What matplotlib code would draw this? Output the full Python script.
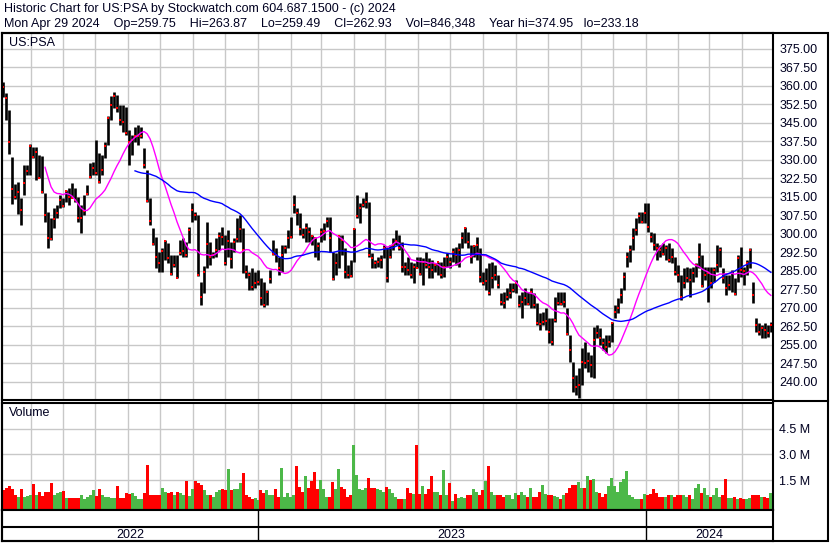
import numpy as np
import pandas as pd
import matplotlib
matplotlib.use('Agg')
import matplotlib.pyplot as plt
import matplotlib.dates as mdates
from matplotlib.ticker import FixedLocator, NullFormatter

plt.rcParams['font.family'] = ['Liberation Sans', 'DejaVu Sans']
TXT = '#000020'

# Price bars, about two trading days per bar (May 2022 - Apr 2024)
high = [
    361.5, 357, 350, 331, 320, 321, 314.5, 328, 328, 336.5, 335.3, 335.3, 332, 331.3, 316.4,
    309, 306.3, 310.3, 311.7, 315.7, 314.4, 317.7, 318.4, 320.4, 318.4, 315, 311.7, 315.7, 319.8,
    328.5, 329.2, 338, 332.6, 331.9, 337.3, 347.5, 355.6, 357.6, 356.2, 352.2, 352.2, 351.5, 342.1, 340,
    343.4, 344, 343.4, 334.6, 325.8, 314.4, 302.2, 298.8, 292.8, 294.1, 297.5, 296.2, 291.4, 291.4,
    291.4, 297.5, 298.2, 296.8, 302.9, 312.3, 309, 307.6, 280.6, 287, 304.9, 296.8, 292.8, 298.2,
    300.9, 302.9, 299.5, 301.6, 296.8, 298.2, 306.3, 307.6, 302.2, 287.4, 284.7, 286, 284.7, 285.4, 282,
    280.6, 277.3, 285.4, 297.5, 294.1, 290.8, 295.5, 295.5, 301.6, 306.9, 315.7, 310.3, 308.3, 302.2,
    304.2, 302.9, 299.5, 298.8, 296.8, 302.2, 304.2, 306.9, 306.9, 292.8, 292.1, 299.5, 299.5, 294.1,
    287.4, 289.4, 302.2, 315.7, 312.4, 314.4, 317.1, 313, 292.1, 289.4, 290.8, 291.4, 295.5, 294.8,
    295.5, 298.2, 301.6, 299.5, 296.8, 288.7, 290.8, 288.7, 288.1, 290.8, 290.8, 290.1, 292.8, 290.1,
    289.4, 288.1, 288.7, 288.7, 290.8, 292.1, 290.8, 294.1, 294.8, 296.2, 300.9, 302.9, 300.9, 295.5,
    295.5, 298.8, 294.1, 284.7, 286, 288.1, 288.7, 287.4, 283.3, 275.9, 276.6, 277.9, 279.9, 279.9, 281.3,
    275.2, 276.6, 277.9, 276.6, 277.9, 275.9, 271.9, 267.8, 268.5, 269.8, 265.8, 265.8, 274.6, 276.6,
    276.6, 276.6, 269.8, 259, 248.2, 242.8, 245.5, 253.6, 256.3, 252.3, 250.9, 262.4, 263.1, 261.7,
    257.7, 259, 259, 264.4, 271.2, 273.9, 277.9, 284.7, 292.8, 295.5, 302.2, 306.3, 309, 309, 312.4,
    312.4, 300.9, 300.2, 296.2, 295.5, 296.2, 295.5, 296.2, 294.1, 290.8, 287.4, 283.3, 286, 286.7,
    286, 286.7, 288.1, 296.2, 291.4, 286.7, 286.7, 286.7, 286.7, 295.5, 294.8, 286, 283.3, 283.3, 285.4,
    282, 291.4, 294.8, 286.7, 289.4, 294.1, 280.6, 265.8, 263.7, 263.1, 263.7, 263.1, 264.4,
]
low = [
    355.5, 346, 332.5, 312, 314, 308, 303.5, 315.7, 324, 324, 330.6, 321.8, 322.5, 316.4, 304.9,
    294.1, 297.5, 302.2, 306.3, 310.3, 311, 313, 311.7, 314.4, 313, 304.9, 300.2, 307.6, 315.7,
    322.5, 323.8, 324, 320.4, 323.8, 330.6, 336, 346.1, 350.8, 349.5, 344.1, 341.4, 340, 327.9, 331.9,
    337.3, 336, 338.7, 326.5, 313, 303.6, 295.5, 286, 284.7, 284.7, 289.4, 288.1, 283.3, 286.7,
    282, 291.4, 290.8, 290.8, 296.2, 304.9, 305.6, 283, 271.2, 276, 286, 287.4, 290.1, 290.8,
    293.5, 295.5, 287.4, 290.8, 286, 292.8, 296.8, 296.8, 284, 282, 277.3, 277.3, 277.9, 279.3, 271.2,
    270.5, 271.2, 279.9, 291.4, 288.7, 283.3, 284.7, 292.1, 294.1, 298.2, 308.3, 303.6, 299.5, 298.2,
    296.8, 296.8, 295.5, 290.8, 289.4, 296.8, 297.5, 302.9, 292.8, 281.3, 283.3, 286, 291.4, 282,
    282, 282.7, 288.7, 306.3, 304.2, 311, 310.3, 290.8, 286, 286, 286.7, 286, 290.1, 280.6,
    290.1, 293.5, 295.5, 293.5, 284.7, 283.3, 283.3, 282, 279.9, 286, 283.3, 279.3, 286, 282,
    282, 284.7, 283.3, 282, 282.7, 286.7, 286, 288.7, 287.4, 286.7, 294.1, 296.2, 294.1, 288.1,
    290.8, 289.4, 280.6, 279.3, 277.3, 275.2, 277.9, 281.3, 277.9, 271.2, 269.8, 273.2, 273.9, 276.6, 275.9,
    270.5, 265.8, 271.2, 271.2, 269.8, 269.8, 263.1, 261, 263.1, 261, 255.7, 255, 264.4, 271.2,
    271.2, 270.5, 259, 248.2, 236.1, 234.7, 233.4, 238.8, 245.5, 244.2, 242.2, 241.5, 257.7, 255,
    252.9, 251.6, 254.3, 256.3, 265.8, 267.8, 271.9, 277.3, 286.7, 288.7, 293.5, 299.5, 304.2, 304.2, 304.2,
    300.9, 296.8, 293.5, 289.4, 290.8, 291.4, 289.4, 288.7, 288.1, 283.3, 280.6, 273.2, 277.9, 280.6,
    274.6, 280.6, 282.7, 286, 278.6, 281.3, 272.5, 277.9, 280.6, 284.7, 286.7, 279.9, 275.2, 277.3, 276.6,
    275.2, 280.6, 282.7, 279.3, 283.3, 286, 271.9, 260.4, 259, 257.7, 257.7, 258.4, 260.4,
]
close = [
    359.5, 355, 337, 318, 315, 317, 309.5, 320.5, 325.5, 335.7, 331, 333, 322.7, 316.8, 307.5,
    298.2, 297.9, 306, 308.3, 313.7, 311.3, 317.3, 315, 314.6, 313.7, 306.3, 306.3, 309.2, 316,
    323, 326.5, 324.5, 321, 326, 335.7, 346.8, 352.2, 355.6, 351, 346, 345.4, 340.7, 337.3, 338,
    339.4, 339.4, 339.4, 327.9, 313.3, 305, 296, 290.8, 288.1, 293, 297.2, 290, 283.6, 287.5,
    282, 292.1, 293.2, 291.4, 301.6, 309.6, 307.6, 283.3, 274.5, 284.7, 296, 290.8, 291.4, 293.5,
    299.2, 298.8, 288.1, 297.2, 289.7, 296.8, 297.8, 301.9, 293.4, 284.7, 283.3, 278.6, 280, 280.3, 274.2,
    271.2, 276.6, 281.6, 292, 291.4, 286, 291.4, 294.1, 298.2, 298.5, 311.7, 308.3, 302, 299.5,
    302.2, 300.9, 299.2, 298.2, 295.2, 300.9, 301.1, 305.2, 298.2, 281.6, 288.1, 299.2, 297.5, 284.7,
    283.3, 283, 301.9, 307, 310.3, 311.7, 313, 291.5, 290.3, 288.1, 288.7, 289.4, 294.1, 282,
    290.5, 295.5, 297.2, 294.1, 286.7, 286.7, 285.4, 283.3, 286.7, 286.2, 283.6, 288.7, 287.4, 286.7,
    285.4, 287.4, 288.4, 283.3, 286.7, 290.8, 288.7, 292.8, 291.4, 293.5, 298.2, 302.2, 296.8, 290.8,
    295.2, 295.5, 282.7, 279.9, 281, 276, 282, 283.3, 279.3, 272.5, 272, 274.6, 275.9, 277.3, 280,
    271.2, 272.5, 273.9, 271.5, 276.6, 271.2, 263.7, 263.4, 264.4, 264.8, 260.4, 256.3, 265.1, 272,
    271.6, 272.3, 259.5, 252.9, 241.5, 238.1, 238.8, 248.2, 247.8, 248.4, 246.9, 257, 259.7, 257.7,
    255.7, 254.3, 256.3, 263.7, 268.5, 269.8, 275.2, 282.7, 290.8, 293.5, 298.2, 301.6, 307, 304.9, 308.3,
    302.9, 298.8, 295.5, 294.1, 293.6, 291.8, 294.1, 289.4, 290.8, 284.7, 283.3, 274.6, 279.9, 282,
    281.3, 284, 287.4, 290.8, 279, 283.3, 284, 279.9, 285.4, 287.4, 293.5, 282, 277.9, 279.3, 284.7,
    275.6, 290.1, 285.4, 285.1, 288.1, 293.5, 275.2, 263.1, 260.4, 261.7, 261.2, 259.7, 262.9,
]
# volume per bar, millions of shares
volume = [
    0.95, 1.04, 1.18, 1.0, 0.65, 0.56, 1.0, 0.56, 0.6, 0.65, 1.3, 0.65, 0.8, 0.62, 0.8,
    0.82, 1.33, 0.65, 0.75, 0.8, 0.9, 0.45, 0.45, 0.45, 0.45, 0.45, 0.65, 0.4, 0.56,
    0.65, 0.95, 0.62, 0.97, 0.65, 0.56, 0.56, 0.46, 0.46, 1.18, 0.46, 0.46, 0.75, 0.7, 0.75,
    0.6, 0.4, 0.4, 0.75, 2.4, 0.65, 0.65, 0.65, 0.65, 1.04, 0.85, 0.75, 0.85, 0.65,
    0.85, 0.75, 0.65, 1.46, 0.6, 1.0, 1.46, 1.33, 1.24, 0.95, 0.65, 0.65, 0.56, 0.85,
    0.95, 0.97, 0.95, 2.16, 0.95, 0.97, 0.97, 1.33, 1.95, 0.65, 0.56, 0.4, 0.5, 0.35, 0.95,
    0.75, 0.95, 0.65, 0.65, 0.97, 0.56, 2.2, 0.56, 0.75, 0.56, 0.65, 2.35, 1.13,
    0.85, 1.75, 1.08, 1.44, 2.0, 0.97, 1.5, 0.97, 0.56, 0.56, 1.42, 0.97, 2.16, 1.13,
    0.97, 0.56, 0.65, 3.55, 1.8, 0.97, 0.95, 1.08, 1.66, 1.06, 1.04, 0.97, 0.95, 0.85, 1.13,
    0.97, 0.78, 0.56, 0.4, 0.4, 0.4, 1.04, 0.75, 0.72, 3.55, 0.72, 1.18, 0.7, 0.97,
    1.75, 0.85, 0.85, 0.65, 2.1, 0.65, 1.33, 0.3, 0.72, 0.46, 0.56, 0.46, 0.65, 0.65,
    0.97, 0.85, 0.65, 0.95, 1.44, 2.35, 0.85, 0.65, 0.65, 0.65, 0.56, 0.65, 0.65, 0.4, 0.75,
    0.65, 0.85, 0.65, 0.56, 1.08, 0.56, 0.56, 0.85, 1.24, 0.72, 0.65, 0.65, 0.6, 0.56,
    0.4, 0.65, 0.75, 1.08, 1.24, 1.24, 1.42, 1.08, 1.08, 1.75, 1.5, 1.6, 0.85, 0.75,
    0.56, 0.72, 1.18, 1.65, 1.18, 0.85, 1.42, 1.58, 2.05, 0.65, 0.56, 0.4, 0.4, 0.4, 0.72,
    0.65, 0.72, 0.97, 0.75, 0.56, 0.56, 0.56, 0.65, 0.65, 0.56, 0.65, 0.65, 0.65, 0.54,
    0.65, 0.4, 1.08, 1.28, 0.75, 1.08, 0.65, 0.56, 0.65, 1.04, 0.56, 0.65, 1.58, 0.46, 0.46,
    0.56, 0.4, 0.46, 0.4, 0.4, 0.46, 0.65, 0.65, 0.65, 0.56, 0.56, 0.46, 0.75,
]
price_ticks = [240, 247.5, 255, 262.5, 270, 277.5, 285, 292.5, 300, 307.5, 315, 322.5,
               330, 337.5, 345, 352.5, 360, 367.5, 375]
vol_ticks = [1.5, 3.0, 4.5]
years = ['2022', '2023', '2024']
header1 = 'Historic Chart for US:PSA by Stockwatch.com 604.687.1500 - (c) 2024'
header2 = ('Mon Apr 29 2024    Op=259.75    Hi=263.87    Lo=259.49    Cl=262.93    '
           'Vol=846,348    Year hi=374.95   lo=233.18')

dates = pd.date_range('2022-05-06', '2024-04-28', periods=len(close))
df = pd.DataFrame({'High': high, 'Low': low, 'Close': close, 'Volume': volume}, index=dates)
df['MA30'] = df['Close'].rolling(15).mean()
df['MA90'] = df['Close'].rolling(45).mean()
up = df['Close'].diff().fillna(-1) >= 0
vol_colors = np.where(up, '#4cb848', '#ff0000')

W, H = 830, 543
fig = plt.figure(figsize=(W / 100, H / 100), dpi=100)


def box(top, bottom, left=2, right=773):
    return [left / W, 1 - bottom / H, (right - left) / W, (bottom - top) / H]


x0, x1 = pd.Timestamp('2022-05-05'), pd.Timestamp('2024-04-30')
grid_kw = dict(color='#c8c8c8', lw=1.0)

# price panel
ax1 = fig.add_axes(box(33, 400))
ax1.vlines(df.index, df['Low'], df['High'], color='black', lw=1.9, zorder=2)
ax1.plot(df.index, df['Close'], 's', color='red', ms=1.7, mew=0, zorder=3)
ax1.plot(df.index, df['MA30'], color='#ff00ff', lw=1.0, zorder=4)
ax1.plot(df.index, df['MA90'], color='#0000ff', lw=1.0, zorder=4)
ax1.set_ylim(232.7, 381.3)
ax1.yaxis.set_major_locator(FixedLocator(price_ticks))
ax1.yaxis.tick_right()
ax1.set_yticklabels(['%.2f' % t for t in price_ticks])

# volume panel
ax2 = fig.add_axes(box(402.7, 509.5))
vfloor = -0.19
bar_w = (dates[1] - dates[0]).total_seconds() / 86400
ax2.bar(df.index, df['Volume'] - vfloor, bottom=vfloor, width=bar_w,
        color=vol_colors, linewidth=0, zorder=2)
ax2.set_ylim(vfloor, 6.0)
ax2.yaxis.set_major_locator(FixedLocator(vol_ticks))
ax2.yaxis.tick_right()
ax2.set_yticklabels(['%.1f M' % t for t in vol_ticks])

for ax in (ax1, ax2):
    ax.set_xlim(x0, x1)
    ax.xaxis.set_major_locator(mdates.MonthLocator())
    ax.xaxis.set_major_formatter(NullFormatter())
    ax.grid(True, **grid_kw)
    ax.set_axisbelow(True)
    ax.tick_params(length=0, pad=4.5, labelsize=9, labelcolor=TXT)
    for s in ax.spines.values():
        s.set_linewidth(1.5)

# year strip along the bottom
ax3 = fig.add_axes(box(509.5, 541))
ax3.set_xlim(x0, x1)
ax3.set_ylim(0, 1)
ax3.set_xticks([])
ax3.set_yticks([])
ax3.axhline(0.44, color='black', lw=1.5)
bounds = [x0, pd.Timestamp('2023-01-01'), pd.Timestamp('2024-01-01'), x1]
for b in bounds[1:-1]:
    ax3.axvline(b, color='black', lw=1.0)
for i, yr in enumerate(years):
    mid = bounds[i] + (bounds[i + 1] - bounds[i]) / 2
    ax3.text(mid, 0.2, yr, ha='center', va='center', fontsize=9, color=TXT,
             family=['Liberation Sans Narrow', 'Liberation Sans'])
for s in ax3.spines.values():
    s.set_linewidth(1.5)

# outer frame around the label column, plus the price/volume divider in it
fig.add_artist(plt.Rectangle((2 / W, 2 / H), 826 / W, (541 - 33) / H, fill=False,
                             lw=1.5, ec='black', transform=fig.transFigure))
fig.add_artist(plt.Line2D([773 / W, 828 / W], [1 - 401 / H, 1 - 401 / H],
                          color='black', lw=1.5, transform=fig.transFigure))

fig.text(4 / W, 1 - 9 / H, header1, va='center', fontsize=9, color=TXT)
fig.text(4 / W, 1 - 24 / H, header2, va='center', fontsize=9, color=TXT)
fig.text(9 / W, 1 - 43 / H, 'US:PSA', va='center', fontsize=9, color=TXT)
fig.text(9 / W, 1 - 413 / H, 'Volume', va='center', fontsize=9, color=TXT)

plt.savefig('out.png', dpi=100)
